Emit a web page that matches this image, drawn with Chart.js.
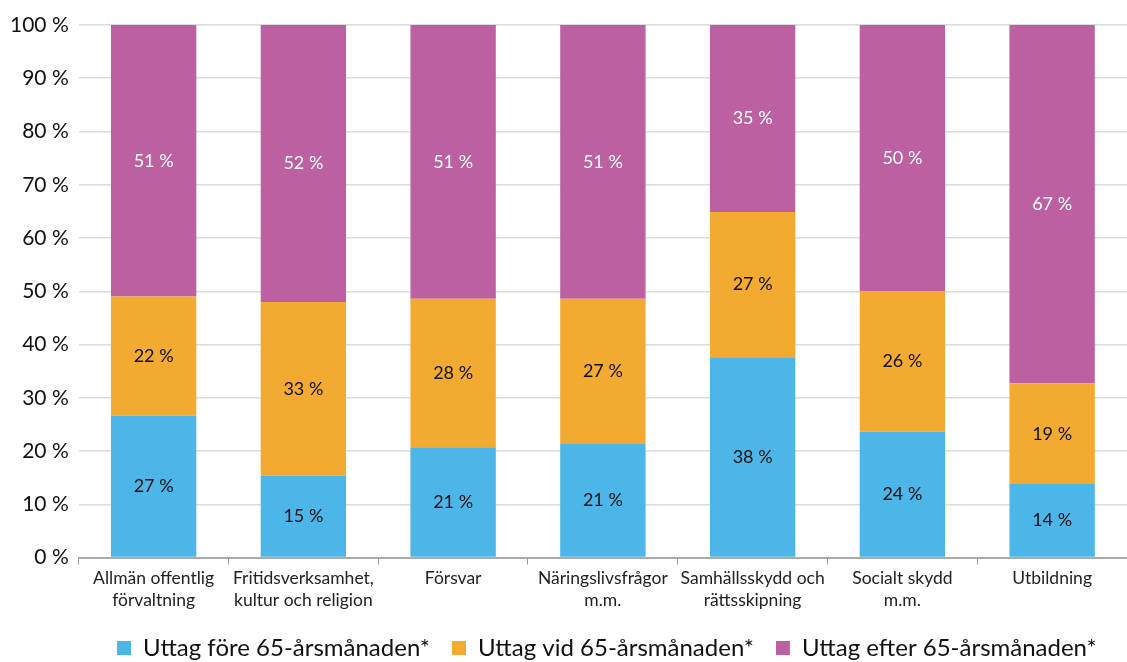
<!DOCTYPE html>
<html>
<head>
<meta charset="utf-8">
<script src="https://cdn.jsdelivr.net/npm/chart.js@4"></script>
<style>
  html, body { margin: 0; padding: 0; background: #fff; }
  #wrap { width: 1127px; height: 662px; }
</style>
</head>
<body>
<div id="wrap"><canvas id="myChart"></canvas></div>
<script>
'use strict'
// categories (multi-line labels)
let categories = [
  ['Allmän offentlig', 'förvaltning'],
  ['Fritidsverksamhet,', 'kultur och religion'],
  ['Försvar'],
  ['Näringslivsfrågor', 'm.m.'],
  ['Samhällsskydd och', 'rättsskipning'],
  ['Socialt skydd', 'm.m.'],
  ['Utbildning']
];
let seriesNames = ['Uttag före 65-årsmånaden*', 'Uttag vid 65-årsmånaden*', 'Uttag efter 65-årsmånaden*'];
let fore = [26.6, 15.4, 20.7, 21.3, 37.6, 23.6, 13.8];
let vid = [22.4, 32.6, 27.9, 27.3, 27.3, 26.4, 18.9];
let efter = [51.0, 52.0, 51.4, 51.4, 35.1, 50.0, 67.3];
let yTicks = [0, 10, 20, 30, 40, 50, 60, 70, 80, 90, 100];

let colors = ['#4db6e8', '#f2aa31', '#bc60a2'];
let labelColors = ['#111', '#111', '#fff'];
let fontName = 'Lato, "Open Sans", sans-serif';

// draws the percent labels in the middle of each segment
let barLabels = {
  id: 'barLabels',
  afterDatasetsDraw(chart) {
    let ctx = chart.ctx;
    ctx.save();
    ctx.font = '18px ' + fontName;
    ctx.textAlign = 'center';
    ctx.textBaseline = 'middle';
    chart.data.datasets.forEach(function (ds, i) {
      let meta = chart.getDatasetMeta(i);
      meta.data.forEach(function (bar, j) {
        let mid = (bar.y + bar.base) / 2;
        ctx.fillStyle = labelColors[i];
        ctx.fillText(Math.round(ds.data[j]) + ' %', bar.x, mid);
      });
    });
    ctx.restore();
  }
};

// legend sits low and is centred under the plot area, not the canvas
let legendPlace = {
  id: 'legendPlace',
  beforeInit(chart) {
    let lg = chart.legend;
    let oldFit = lg.fit;
    lg.fit = function () {
      oldFit.bind(lg)();
      this.height -= 8;
    };
    let oldDraw = lg.draw;
    lg.draw = function () {
      let c = chart.ctx;
      let shift = (chart.chartArea.left + Math.min(chart.chartArea.right, chart.width)) / 2 - chart.width / 2;
      c.save();
      c.translate(shift, 0);
      oldDraw.call(lg);
      c.restore();
    };
  }
};

let datasets = [fore, vid, efter].map(function (d, i) {
  return {
    label: seriesNames[i],
    data: d,
    backgroundColor: colors[i],
    borderWidth: 0,
    barPercentage: 0.57,
    categoryPercentage: 1
  };
});

let ctx = document.getElementById('myChart').getContext('2d');
let myChart = new Chart(ctx, {
  type: 'bar',
  data: { labels: categories, datasets: datasets },
  plugins: [barLabels, legendPlace],
  options: {
    responsive: true,
    maintainAspectRatio: false,
    animation: false,
    layout: { padding: { top: 25, right: -8, left: 0, bottom: 0 } },
    plugins: {
      tooltip: { enabled: false },
      legend: {
        position: 'bottom',
        labels: {
          color: '#111',
          font: { family: fontName, size: 24 },
          boxWidth: 14,
          boxHeight: 14,
          padding: 22
        }
      }
    },
    scales: {
      x: {
        stacked: true,
        grid: {
          display: true,
          drawOnChartArea: false,
          offset: true,
          tickLength: 7,
          color: '#999'
        },
        border: { color: '#aaa', width: 2 },
        ticks: {
          color: '#222',
          font: { family: fontName, size: 17.5, lineHeight: 1.3 },
          maxRotation: 0,
          autoSkip: false,
          padding: 2
        }
      },
      y: {
        stacked: true,
        min: 0,
        max: 100,
        afterBuildTicks: function (axis) {
          axis.ticks = yTicks.map(function (v) { return { value: v }; });
        },
        grid: { color: '#dcdcdc', lineWidth: 1.5, drawTicks: false },
        border: { display: false },
        ticks: {
          color: '#111',
          font: { family: fontName, size: 21 },
          padding: 10,
          callback: function (v) { return v + ' %'; }
        }
      }
    }
  }
});
</script>
</body>
</html>
